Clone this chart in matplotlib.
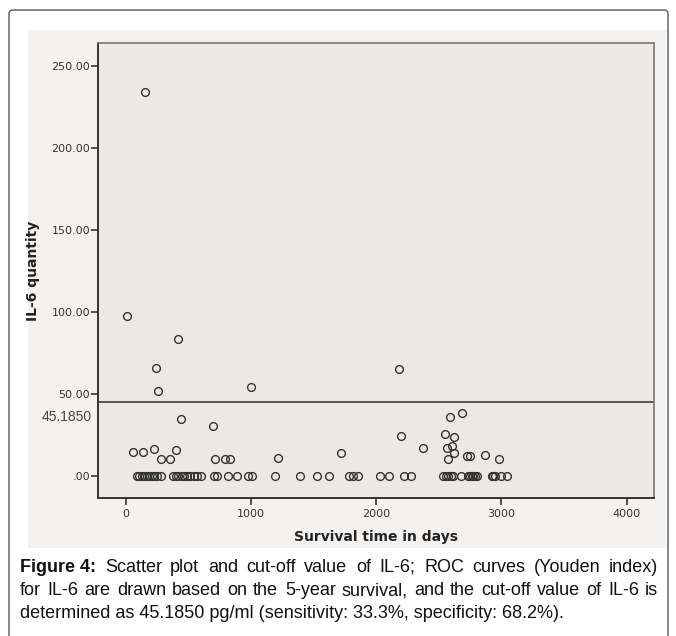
import matplotlib
matplotlib.use("Agg")
import matplotlib.pyplot as plt
from matplotlib.patches import Rectangle, FancyBboxPatch

# ---------------- data ----------------
survival_days = [
    155, 13, 420, 242, 258, 1003, 2184, 441, 700,
    61, 136, 226, 282, 354, 404, 713, 790, 833, 1215, 1719,
    2198, 2371, 2552, 2589, 2685, 2624, 2603, 2568, 2621, 2571,
    2725, 2745, 2866, 2980,
    88, 109, 128, 146, 168, 188, 207, 226, 247, 282, 375, 402, 420, 447,
    468, 492, 513, 545, 571, 601, 705, 727, 817, 886, 975, 1006, 1188,
    1392, 1529, 1622, 1785, 1817, 1857, 2030, 2105, 2224, 2278, 2536,
    2557, 2575, 2595, 2616, 2675, 2731, 2749, 2763, 2775, 2789, 2803,
    2922, 2935, 2949, 2994, 3042,
]
il6_values = [
    234.0, 97.6, 83.4, 65.7, 52.0, 54.0, 65.5, 34.8, 30.5,
    14.8, 14.8, 16.5, 10.5, 10.5, 15.7, 10.2, 10.2, 10.2, 11.2, 13.8,
    24.6, 16.9, 25.6, 36.0, 38.2, 24.0, 18.5, 17.3, 14.2, 10.2,
    12.2, 12.2, 13.0, 10.2,
    0.0, 0.0, 0.0, 0.0, 0.0, 0.0, 0.0, 0.0, 0.0, 0.0, 0.0, 0.0, 0.0, 0.0,
    0.0, 0.0, 0.0, 0.0, 0.0, 0.0, 0.0, 0.0, 0.0, 0.0, 0.0, 0.0, 0.0,
    0.0, 0.0, 0.0, 0.0, 0.0, 0.0, 0.0, 0.0, 0.0, 0.0, 0.0,
    0.0, 0.0, 0.0, 0.0, 0.0, 0.0, 0.0, 0.0, 0.0, 0.0, 0.0,
    0.0, 0.0, 0.0, 0.0, 0.0,
]
cutoff_value = 45.1850
cutoff_label = "45.1850"
y_ticks = [0, 50, 100, 150, 200, 250]
y_tick_labels = [".00", "50.00", "100.00", "150.00", "200.00", "250.00"]
x_ticks = [0, 1000, 2000, 3000, 4000]
x_tick_labels = ["0", "1000", "2000", "3000", "4000"]
x_label = "Survival time in days"
y_label = "IL-6 quantity"
caption_lines = [
    ("Figure 4:", "Scatter plot and cut-off value of IL-6; ROC curves (Youden index)"),
    ("", "for IL-6 are drawn based on the 5-year survival, and the cut-off value of IL-6 is"),
    ("", "determined as 45.1850 pg/ml (sensitivity: 33.3%, specificity: 68.2%)."),
]

# ---------------- figure ----------------
W, H = 676, 636
fig = plt.figure(figsize=(W / 100, H / 100), dpi=100)
fig.patch.set_facecolor("white")

def fx(px):
    return px / W

def fy(py):
    return 1 - py / H

# outer frame
fig.patches.append(FancyBboxPatch((fx(9), fy(645)), fx(668) - fx(9), fy(10) - fy(645),
                                  boxstyle="round,pad=0,rounding_size=0.006",
                                  transform=fig.transFigure, fill=False,
                                  edgecolor="#555555", linewidth=1.0, zorder=-2))
# chart background area
fig.patches.append(Rectangle((fx(28), fy(548)), fx(666) - fx(28), fy(30) - fy(548),
                             transform=fig.transFigure, facecolor="#f4f2f0",
                             edgecolor="none", zorder=-1))

ax = fig.add_axes([fx(98.3), fy(498.3), fx(654.3) - fx(98.3), fy(43.3) - fy(498.3)])
ax.set_zorder(2)
ax.set_facecolor("#ebe8e5")
ax.set_xlim(-219, 4220)
ax.set_ylim(-13.6, 263.8)

ax.plot(survival_days, il6_values, linestyle="none", marker="o", markersize=5.6,
        markerfacecolor="none", markeredgecolor="#333333", markeredgewidth=1.0,
        zorder=3)
ax.axhline(cutoff_value, color="#555555", linewidth=1.4, zorder=2)

ax.set_yticks(y_ticks)
ax.set_yticklabels(y_tick_labels)
ax.set_xticks(x_ticks)
ax.set_xticklabels(x_tick_labels)
ax.tick_params(axis="both", direction="out", length=5, width=1.2, color="#333333",
               labelsize=8, labelcolor="#333333")
ax.tick_params(axis="y", pad=1)
ax.tick_params(axis="x", pad=3)
ax.tick_params(top=False, right=False)
for side, sp in ax.spines.items():
    if side in ("left", "bottom"):
        sp.set_color("#333333")
        sp.set_linewidth(1.4)
    else:
        sp.set_color("#777777")
        sp.set_linewidth(1.2)

ax.text(-0.012, cutoff_value - 9.5, cutoff_label, transform=ax.get_yaxis_transform(),
        ha="right", va="center", fontsize=10, color="#444444",
        family="Liberation Sans")

fig.text(fx(33), fy(270.8), y_label, rotation=90, ha="center", va="center",
         fontsize=10, fontweight="bold", color="#222222", zorder=3)
fig.text(fx(376.3), fy(537), x_label, ha="center", va="center",
         fontsize=10, fontweight="bold", color="#222222", zorder=3)

# ---------------- caption (first two lines justified) ----------------
fig.canvas.draw()
renderer = fig.canvas.get_renderer()
left_px, right_px = 20, 658
baselines = [572, 595, 618]
cap_size = 13.0
cap_font = "Liberation Sans"

def width_px(s, weight="normal"):
    t = fig.text(0, 0, s, fontsize=cap_size, family=cap_font, fontweight=weight)
    w = t.get_window_extent(renderer).width
    t.remove()
    return w

for i, (bold, rest) in enumerate(caption_lines):
    if i == len(caption_lines) - 1:
        fig.text(fx(left_px), fy(baselines[i]), rest, fontsize=cap_size, family=cap_font,
                 ha="left", va="baseline", color="#111111")
        continue
    words = []
    if bold:
        words.append((bold, "bold"))
    words += [(w, "normal") for w in rest.split(" ")]
    widths = [width_px(w, wt) for w, wt in words]
    gap = (right_px - left_px - sum(widths)) / (len(words) - 1)
    x = left_px
    for (w, wt), wd in zip(words, widths):
        fig.text(fx(round(x)), fy(baselines[i]), w, fontsize=cap_size, family=cap_font,
                 fontweight=wt, ha="left", va="baseline", color="#111111")
        x += wd + gap

fig.savefig("out.png", dpi=100)
